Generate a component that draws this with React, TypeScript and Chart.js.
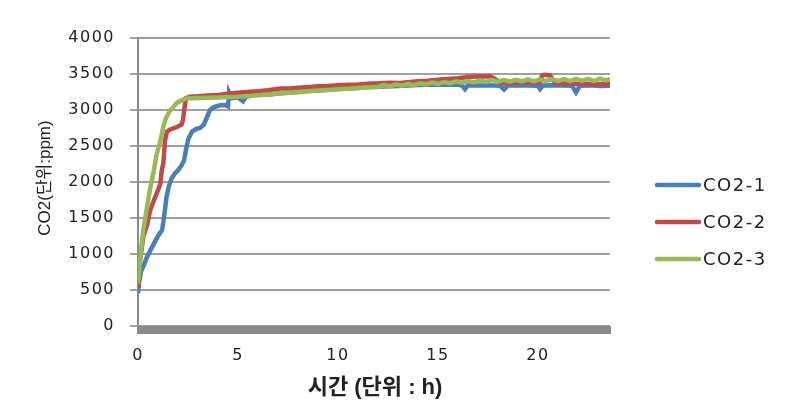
import React, { useEffect, useRef } from "react";
import { Chart, registerables } from "chart.js";

Chart.register(...registerables);

const SERIES_NAMES = ["CO2-1", "CO2-2", "CO2-3"];
const SERIES_COLORS = ["#4a7ebb", "#be4b48", "#98b954"];
const X_TICKS = [0, 5, 10, 15, 20];
const X_MAX = 23.6;
const Y_MAX = 4000;
const Y_STEP = 500;
const X_TITLE = "시간 (단위 : h)";
const Y_TITLE = "CO2(단위:ppm)";

// CO2-1 (blue)
const T1 = [0, 0.05, 0.15, 0.3, 0.45, 0.6, 0.77, 0.9, 1.0, 1.1, 1.2, 1.27, 1.35, 1.43, 1.55, 1.68, 1.85, 2.02, 2.18, 2.3, 2.4, 2.52, 2.7, 2.93, 3.1, 3.18, 3.3, 3.45, 3.6, 3.8, 4.1, 4.35, 4.5, 4.55, 4.7, 5.0, 5.25, 5.4, 5.9, 6.5, 7, 8, 8.7, 9, 10, 11, 11.9, 12, 13, 14, 15, 16, 16.2, 16.35, 16.5, 17, 17.5, 18.1, 18.3, 18.5, 19, 19.5, 20.0, 20.1, 20.25, 20.7, 21.2, 21.7, 21.9, 22.1, 22.6, 23.1, 23.6];
const V1 = [454, 600, 760, 850, 960, 1040, 1130, 1200, 1250, 1290, 1330, 1450, 1620, 1800, 1950, 2050, 2120, 2170, 2230, 2300, 2450, 2600, 2700, 2740, 2750, 2770, 2800, 2900, 3000, 3040, 3065, 3070, 3050, 3250, 3165, 3175, 3120, 3180, 3235, 3212, 3228, 3250, 3275, 3270, 3290, 3305, 3335, 3322, 3335, 3348, 3355, 3350, 3340, 3290, 3345, 3342, 3345, 3338, 3285, 3342, 3345, 3342, 3338, 3290, 3342, 3345, 3342, 3338, 3245, 3338, 3342, 3335, 3338];

// CO2-2 (red)
const T2 = [0, 0.02, 0.05, 0.1, 0.27, 0.45, 0.6, 0.8, 1.02, 1.12, 1.18, 1.27, 1.35, 1.45, 1.6, 1.77, 2.0, 2.18, 2.25, 2.32, 2.4, 2.6, 3, 3.5, 4, 4.5, 5, 5.6, 6, 6.5, 7.1, 7.6, 8, 8.6, 9, 9.5, 10, 10.5, 11, 11.5, 12, 12.6, 13.1, 13.6, 14, 14.5, 15, 15.5, 16, 16.6, 17, 17.6, 17.8, 18.2, 18.7, 19.2, 19.7, 20.1, 20.2, 20.3, 20.6, 20.8, 20.9, 21.3, 21.8, 22.0, 22.3, 22.8, 23.3, 23.6];
const V2 = [560, 1000, 700, 900, 1250, 1400, 1600, 1750, 1900, 1980, 2150, 2260, 2580, 2700, 2730, 2745, 2770, 2800, 2860, 3020, 3165, 3185, 3190, 3200, 3210, 3225, 3240, 3254, 3260, 3275, 3300, 3300, 3310, 3320, 3330, 3335, 3345, 3350, 3355, 3365, 3370, 3380, 3375, 3390, 3400, 3405, 3420, 3430, 3440, 3462, 3465, 3470, 3440, 3370, 3375, 3385, 3385, 3380, 3480, 3488, 3480, 3400, 3365, 3370, 3365, 3360, 3360, 3355, 3360, 3358];

// CO2-3 (green)
const T3 = [0, 0.1, 0.17, 0.27, 0.4, 0.6, 0.75, 0.93, 1.1, 1.27, 1.4, 1.6, 1.8, 1.93, 2.15, 2.4, 3, 3.5, 4, 4.5, 5, 5.6, 6, 6.5, 7.1, 7.5, 8, 8.5, 9, 9.5, 10, 10.5, 11, 11.5, 12, 12.3, 12.6, 12.9, 13.2, 13.5, 13.8, 14.1, 14.4, 14.7, 15, 15.3, 15.6, 15.9, 16.2, 16.5, 16.8, 17.1, 17.4, 17.7, 18, 18.3, 18.6, 18.9, 19.2, 19.5, 19.8, 20.1, 20.4, 20.7, 21, 21.3, 21.6, 21.9, 22.2, 22.5, 22.8, 23.1, 23.4, 23.6];
const V3 = [593, 900, 1100, 1340, 1560, 1900, 2100, 2380, 2550, 2770, 2890, 2990, 3050, 3096, 3130, 3160, 3165, 3170, 3175, 3180, 3185, 3195, 3205, 3215, 3232, 3240, 3250, 3260, 3270, 3278, 3288, 3296, 3305, 3312, 3320, 3345, 3328, 3355, 3338, 3362, 3345, 3372, 3355, 3380, 3362, 3388, 3370, 3398, 3378, 3402, 3385, 3410, 3390, 3415, 3392, 3418, 3395, 3420, 3396, 3424, 3398, 3425, 3400, 3428, 3402, 3430, 3400, 3432, 3405, 3432, 3402, 3435, 3410, 3430];

const SERIES_T = [T1, T2, T3];
const SERIES_V = [V1, V2, V3];

const TEXT_COLOR = "#222222";
const GRID_COLOR = "#a0a0a0";

const decorPlugin = {
  id: "decor",
  beforeDraw(chart: any) {
    (chart.ctx as any).letterSpacing = "1.5px";
  },
  afterDraw(chart: any) {
    const { ctx, chartArea } = chart;
    ctx.save();
    // thick grey horizontal axis bar
    ctx.fillStyle = "#8a8a8a";
    ctx.fillRect(chartArea.left - 1, chartArea.bottom, chartArea.right - chartArea.left + 2, 8);

    // axis titles
    ctx.fillStyle = TEXT_COLOR;
    ctx.textAlign = "center";
    ctx.textBaseline = "middle";
    (ctx as any).letterSpacing = "0px";
    ctx.font = 'bold 22px "Liberation Sans", "Noto Sans CJK KR"';
    ctx.fillText(X_TITLE, (chartArea.left + chartArea.right) / 2 + 1, 388);
    ctx.save();
    ctx.translate(45, 178);
    ctx.rotate(-Math.PI / 2);
    ctx.font = '17px "Liberation Sans", "Noto Sans CJK KR"';
    ctx.fillText(Y_TITLE, 0, 0);
    ctx.restore();

    // legend
    chart.data.datasets.forEach((ds: any, i: number) => {
      const y = 185 + i * 37;
      ctx.strokeStyle = ds.borderColor;
      ctx.lineWidth = 4.5;
      ctx.lineCap = "round";
      ctx.beginPath();
      ctx.moveTo(657, y);
      ctx.lineTo(699, y);
      ctx.stroke();
      ctx.fillStyle = TEXT_COLOR;
      ctx.font = '18px "DejaVu Sans"';
      ctx.textBaseline = "middle";
      ctx.textAlign = "left";
      (ctx as any).letterSpacing = "1.5px";
      ctx.fillText(ds.label, 703, y + 1);
    });
    ctx.restore();
  },
};

export default function App() {
  const ref = useRef<HTMLCanvasElement | null>(null);

  useEffect(() => {
    if (!ref.current) return;
    const datasets = SERIES_NAMES.map((name, i) => ({
      label: name,
      data: SERIES_T[i].map((t, j) => ({ x: t, y: SERIES_V[i][j] })),
      borderColor: SERIES_COLORS[i],
      backgroundColor: SERIES_COLORS[i],
      borderWidth: 4.5,
      pointRadius: 0,
      tension: 0,
      fill: false,
      order: 3 - i,
    }));
    const tickFont = { family: '"DejaVu Sans"', size: 16 };
    const chart = new Chart(ref.current, {
      type: "line",
      data: { datasets },
      plugins: [decorPlugin],
      options: {
        animation: false,
        responsive: false,
        layout: { padding: { left: 0, top: 38, right: 187, bottom: 0 } },
        plugins: { legend: { display: false }, tooltip: { enabled: false } },
        scales: {
          x: {
            type: "linear",
            min: 0,
            max: X_MAX,
            grid: { display: false, drawTicks: false },
            border: { display: false },
            afterBuildTicks: (scale: any) => {
              scale.ticks = X_TICKS.map((v) => ({ value: v }));
            },
            afterFit: (scale: any) => {
              scale.height = 84;
            },
            ticks: {
              font: tickFont,
              color: TEXT_COLOR,
              padding: 20,
              maxRotation: 0,
              callback: (v: any) => String(v),
            },
          },
          y: {
            min: 0,
            max: Y_MAX,
            grid: { color: GRID_COLOR, lineWidth: 2, tickLength: 8 },
            border: { display: true, color: "#8c8c8c", width: 2 },
            afterFit: (scale: any) => {
              scale.width = 138;
            },
            ticks: {
              stepSize: Y_STEP,
              font: tickFont,
              color: TEXT_COLOR,
              padding: 15,
              callback: (v: any) => String(v),
            },
          },
        },
      },
    });
    return () => chart.destroy();
  }, []);

  return (
    <div style={{ position: "fixed", left: 0, top: 0, width: 797, height: 410, background: "#fff" }}>
      <canvas ref={ref} width={797} height={410} />
    </div>
  );
}
